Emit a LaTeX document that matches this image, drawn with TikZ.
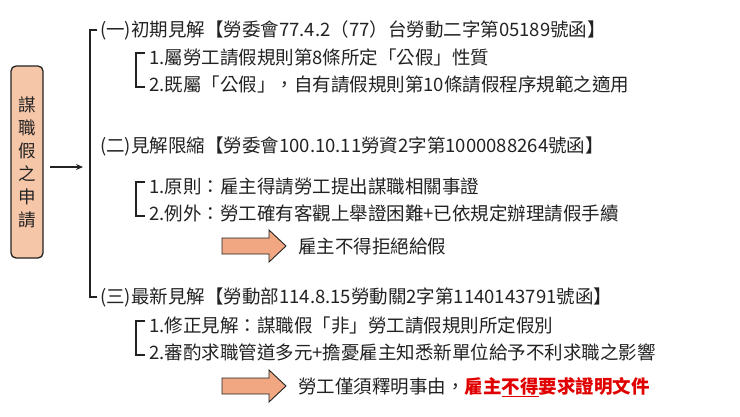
\documentclass[tikz,border=0pt]{standalone}
\usepackage{fontspec}
\setmainfont{Noto Sans CJK TC}
\usetikzlibrary{arrows.meta}
\definecolor{peach}{HTML}{F6C6A8}
\definecolor{arrowfill}{HTML}{F1A882}
\definecolor{redtxt}{HTML}{E00000}
\definecolor{ink}{HTML}{222222}
\begin{document}
\begin{tikzpicture}[x=1pt,y=-1pt,
  txt/.style={anchor=base west, inner sep=0pt, text=ink, font=\fontsize{18.5}{21}\selectfont},
  sidebox/.style={draw=ink, line width=1.3pt, rounded corners=5pt, fill=peach,
     minimum width=32pt, minimum height=192pt, inner sep=0pt, align=center,
     font=\fontsize{17.5}{23}\selectfont, text=ink},
  bigbr/.style={draw=ink, line width=1.6pt},
  smallbr/.style={draw=ink, line width=1.4pt},
  blockarrow/.style={draw=ink, line width=0.9pt, fill=arrowfill, line join=miter}
]
\useasboundingbox (0,0) rectangle (740,416);

% left box
\node[sidebox] (side) at (27,162) {謀\\職\\假\\之\\申\\請};
\coordinate (a0) at (50,167);
\coordinate (a1) at (83,167);
\draw[draw=ink, line width=1.3pt, -{Stealth[length=7pt,width=6pt]}] (a0) -- (a1);

% texts
\node[txt] (t1) at (100,36) {(一)初期見解【勞委會77.4.2（77）台勞動二字第05189號函】};
\node[txt] (t2) at (149,64) {1.屬勞工請假規則第8條所定「公假」性質};
\node[txt] (t3) at (149,91) {2.既屬「公假」，自有請假規則第10條請假程序規範之適用};
\node[txt] (t4) at (100,152) {(二)見解限縮【勞委會100.10.11勞資2字第1000088264號函】};
\node[txt] (t5) at (149,193) {1.原則：雇主得請勞工提出謀職相關事證};
\node[txt] (t6) at (149,220) {2.例外：勞工確有客觀上舉證困難+已依規定辦理請假手續};
\node[txt] (t7) at (298,253) {雇主不得拒絕給假};
\node[txt] (t8) at (100,303) {(三)最新見解【勞動部114.8.15勞動關2字第1140143791號函】};
\node[txt] (t9) at (149,332) {1.修正見解：謀職假「非」勞工請假規則所定假別};
\node[txt] (t10) at (149,359) {2.審酌求職管道多元+擔憂雇主知悉新單位給予不利求職之影響};
\node[txt] (t11) at (298,393) {勞工僅須釋明事由，\textcolor{redtxt}{\bfseries 雇主\underline{不得}要求證明文件}};

% big bracket
\draw[bigbr] ([xshift=-3pt]t1.west |- 0,30) -- (90,30) -- (90,297) -- ([xshift=-3pt]t8.west |- 0,297);

% small brackets
\draw[smallbr] (145,53) -- (136,53) -- (136,87) -- (145,87);
\draw[smallbr] (145,182) -- (136,182) -- (136,216) -- (145,216);
\draw[smallbr] (145,321) -- (136,321) -- (136,355) -- (145,355);

% block arrows
\draw[blockarrow] (222,238) -- (269,238) -- (269,230) -- (286,246) -- (269,262) -- (269,254) -- (222,254) -- cycle;
\draw[blockarrow] (222,378) -- (269,378) -- (269,370) -- (286,386) -- (269,402) -- (269,394) -- (222,394) -- cycle;
\end{tikzpicture}
\end{document}
